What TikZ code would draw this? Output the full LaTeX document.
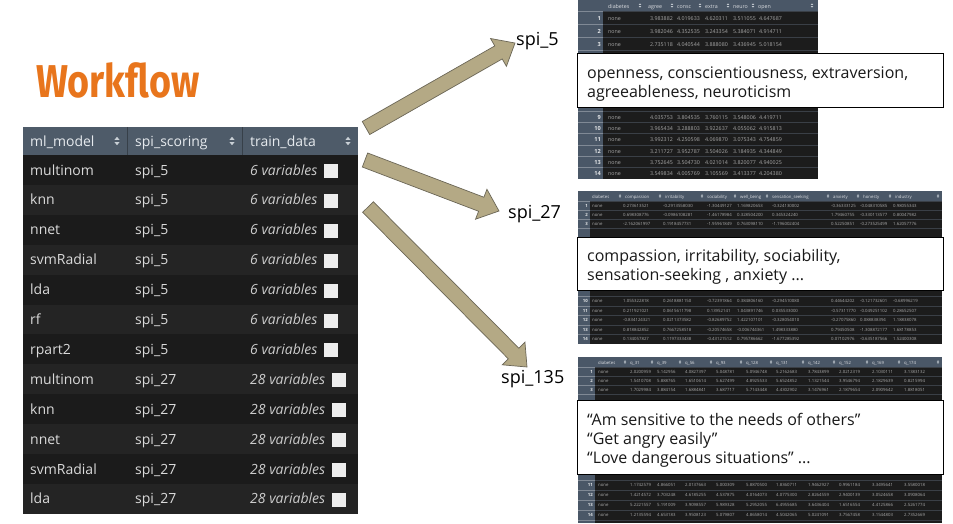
\documentclass[tikz,border=0pt]{standalone}
\usepackage{fontspec}
\usepackage{graphicx}
\setmainfont{Open Sans}
\newfontfamily\titlefont{Fira Sans}
\usetikzlibrary{calc}
\definecolor{hdr}{HTML}{4E5B69}
\definecolor{rowa}{HTML}{1B1B1B}
\definecolor{rowb}{HTML}{242424}
\definecolor{tabtxt}{HTML}{DADADA}
\definecolor{hdrtxt}{HTML}{E6EAEE}
\definecolor{orng}{HTML}{E8751C}
\definecolor{khaki}{HTML}{B4A985}
\definecolor{khakiedge}{HTML}{6B6656}
\definecolor{shdr}{HTML}{4A5767}
\definecolor{sbody}{HTML}{1C1C1C}
\definecolor{stxt}{HTML}{A8A8A8}
\definecolor{sline}{HTML}{3A3F46}
\definecolor{icon}{HTML}{C9D0D6}
\newcommand{\sorticon}[4]{%
  \fill[#4] ({#1-#3},{#2-0.4*#3}) -- ({#1+#3},{#2-0.4*#3}) -- (#1,{#2-1.6*#3}) -- cycle;
  \fill[#4] ({#1-#3},{#2+0.4*#3}) -- ({#1+#3},{#2+0.4*#3}) -- (#1,{#2+1.6*#3}) -- cycle;}
\newcommand{\blockarrow}[2]{%
  \coordinate (#1-p) at ($(#2)!19pt!(#1)$);
  \filldraw[fill=khaki, draw=khakiedge, line width=0.7pt, line join=miter]
    ($(#1)!7.5pt!90:(#2)$) -- ($(#1-p)!7.5pt!90:(#2)$) -- ($(#1-p)!16pt!90:(#2)$) -- (#2)
    -- ($(#1-p)!16pt!-90:(#2)$) -- ($(#1-p)!7.5pt!-90:(#2)$) -- ($(#1)!7.5pt!-90:(#2)$) -- cycle;}
\tikzset{
  tabcell/.style={anchor=base west, inner sep=0pt, text=tabtxt, font=\fontsize{14}{16}\selectfont},
  tabhead/.style={anchor=base west, inner sep=0pt, text=hdrtxt, font=\fontsize{14}{16}\selectfont},
  chk/.style={anchor=west, fill=white!93!black, minimum width=14pt, minimum height=14pt, inner sep=0pt},
  lbl/.style={anchor=base west, inner sep=0pt, text=black, font=\fontsize{18}{20}\selectfont},
  boxtxt/.style={anchor=base west, inner sep=0pt, text=black!90, font=\fontsize{16}{19}\selectfont},
  wbox/.style={draw=black, line width=1.2pt, fill=white, anchor=north west, inner sep=0pt},
  stx/.style={anchor=base west, inner sep=0pt, text=stxt, font=\fontsize{5.3}{6}\selectfont},
  sidx/.style={anchor=base east, inner sep=0pt, text=white!85!shdr, font=\bfseries\fontsize{5.6}{6}\selectfont},
  shd/.style={anchor=base west, inner sep=0pt, text=white!80!shdr, font=\fontsize{5.3}{6}\selectfont},
  tx/.style={anchor=base west, inner sep=0pt, text=stxt, font=\fontsize{4.3}{5}\selectfont},
  tidx/.style={anchor=base east, inner sep=0pt, text=white!85!shdr, font=\bfseries\fontsize{4.3}{5}\selectfont},
  thd/.style={anchor=base west, inner sep=0pt, text=white!80!shdr, font=\fontsize{4.3}{5}\selectfont},
}
\begin{document}
\begin{tikzpicture}[x=1pt,y=-1pt]
\useasboundingbox (0,0) rectangle (953,523);
\fill[white] (0,0) rectangle (953,523);

% title
\node[anchor=base west, inner sep=0pt, text=orng, font=\titlefont\bfseries\fontsize{46}{50}\selectfont] (title) at (36,97) {\scalebox{0.82}[1]{Workflow}};

% ---------- main table ----------
\fill[hdr] (23,127) rectangle (358,155);
\draw[hdr!70!black, line width=0.8pt] (127.5,127) -- (127.5,155) (242.5,127) -- (242.5,155);
\node[tabhead] (h1) at (30,146) {ml\_model};
\node[tabhead] (h2) at (135,146) {spi\_scoring};
\node[tabhead] (h3) at (250,146) {train\_data};
\sorticon{117}{141}{2.6}{icon}
\sorticon{232}{141}{2.6}{icon}
\sorticon{348}{141}{2.6}{icon}
\foreach \i/\m/\s/\v in {1/multinom/5/6, 2/knn/5/6, 3/nnet/5/6, 4/svmRadial/5/6, 5/lda/5/6, 6/rf/5/6, 7/rpart2/5/6, 8/multinom/27/28, 9/knn/27/28, 10/nnet/27/28, 11/svmRadial/27/28, 12/lda/27/28}{
  \pgfmathsetmacro\yt{155+(\i-1)*29.9}
  \pgfmathsetmacro\yc{\yt+15}
  \ifodd\i\relax\def\rc{rowa}\else\def\rc{rowb}\fi
  \fill[\rc] (23,\yt) rectangle (358,{\yt+29.95});
  \node[tabcell] (m\i) at (30,{\yc+5}) {\m};
  \node[tabcell] (s\i) at (135,{\yc+5}) {spi\_\s};
  \node[tabcell, text=white!80!black, font=\itshape\fontsize{14}{16}\selectfont] (v\i) at (250,{\yc+5}) {\v\ variables};
  \node[chk] (c\i) at ($(v\i.base east)+(6,-4)$) {};
}

% ---------- screenshot 1 (spi_5) ----------
\fill[sbody] (578,0) rectangle (818,179);
\fill[shdr] (578,0) rectangle (818,11);
\fill[shdr] (578,0) rectangle (603,179);
\foreach \yy in {11,24.5,37.5,50.5,111.5,122.5,133.5,145,156.5,167.5}{
  \draw[sline, line width=0.5pt] (603,\yy) -- (818,\yy);
  \draw[white!30!shdr, line width=0.5pt] (578,\yy) -- (603,\yy);
}
\foreach \lab/\xx [count=\k] in {diabetes/608, agree/648, consc/677, extra/705, neuro/733, open/758}{
  \node[shd] (s1h\k) at (\xx,8) {\lab};
}
\foreach \xx in {640,672,700,728,753,812}{\sorticon{\xx}{5.5}{1.3}{icon}}
\foreach \r/\yc/\a/\b/\c/\d/\e in {
  1/18/3.983882/4.019633/4.620311/3.511055/4.647687,
  2/31/3.982046/4.352535/3.243354/5.384071/4.914711,
  3/44/2.735118/4.040544/3.888080/3.436945/5.018154,
  9/117/4.035753/3.804535/3.760115/3.548006/4.419711,
  10/128/3.965434/3.288803/3.922637/4.055062/4.915813,
  11/139/3.992312/4.250598/4.069870/3.075343/4.754859,
  12/151/3.211727/3.952787/3.504026/3.184935/4.344849,
  13/162/3.752645/3.504730/4.021014/3.820077/4.940025,
  14/173/3.549834/4.005769/3.105569/3.413377/4.204380}{
  \node[sidx] (s1i\r) at (601,{\yc+2}) {\r};
  \node[stx] (s1n\r) at (608,{\yc+2}) {none};
  \node[stx] (s1a\r) at (650,{\yc+2}) {\a};
  \node[stx] (s1b\r) at (677,{\yc+2}) {\b};
  \node[stx] (s1c\r) at (705,{\yc+2}) {\c};
  \node[stx] (s1d\r) at (733,{\yc+2}) {\d};
  \node[stx] (s1e\r) at (759,{\yc+2}) {\e};
}
\node[wbox, minimum width=366pt, minimum height=54pt] (box1) at (577,53) {};
\node[boxtxt] (t1a) at (587,78) {openness, conscientiousness, extraversion,};
\node[boxtxt] (t1b) at (587,97) {agreeableness, neuroticism};

% ---------- screenshot 2 (spi_27) ----------
\fill[sbody] (578,191) rectangle (942,344);
\fill[shdr] (578,191) rectangle (942,201);
\fill[shdr] (578,191) rectangle (590,344);
\foreach \yy in {201,210.5,219.5,228.5,296.25,305.75,315.25,324.75,334.25}{
  \draw[sline, line width=0.5pt] (590,\yy) -- (942,\yy);
  \draw[white!30!shdr, line width=0.5pt] (578,\yy) -- (590,\yy);
}
\foreach \lab/\xx [count=\k] in {diabetes/592, compassion/625, irritability/665, sociability/707, well\_being/740, sensation\_seeking/772, anxiety/833, honesty/863, industry/895}{
  \node[thd] (s2h\k) at (\xx,198) {\lab};
}
\foreach \xx in {620,660,702,735,767,828,858,890,938}{\sorticon{\xx}{196}{1.1}{icon}}
\foreach \r/\yc/\a/\b/\c/\d/\e/\f/\g/\h in {
  1/206/0.273613521/-0.2913558030/-1.30449127/1.169820653/-0.324130002/-0.36333125/-0.048310585/0.98055343,
  2/215/0.698308776/-0.0986108281/-1.46178984/0.328504200/0.345324240/1.79460755/-0.330113577/0.80047982,
  3/224/-2.162061997/0.1918457731/-1.95961849/0.763098110/-1.196002404/0.52250851/-0.273525499/1.62057776,
  10/301/1.055322818/0.2618881150/-0.72391864/0.384806160/-0.294510080/0.44644202/-0.121732601/-0.68996219,
  11/310.5/0.211921021/0.0615611798/0.13952141/1.043891746/0.035533000/-0.57311770/-0.049251102/0.28652507,
  12/320/-0.834124321/0.0211373582/-0.82689752/1.422107101/-0.328054010/-0.27075860/0.088838394/1.18838078,
  13/329.5/0.818842852/0.7667258518/-0.20574658/-0.006744361/1.498333880/0.79450508/-1.308872177/1.68178853,
  14/339/0.134057827/0.1197333438/-0.43121512/0.795786662/-1.677285392/0.07102976/-0.635187566/1.52400308}{
  \node[tidx] (s2i\r) at (588,{\yc+1.5}) {\r};
  \node[tx] (s2n\r) at (592,{\yc+1.5}) {none};
  \node[tx] (s2a\r) at (623,{\yc+1.5}) {\a};
  \node[tx] (s2b\r) at (663,{\yc+1.5}) {\b};
  \node[tx] (s2c\r) at (707,{\yc+1.5}) {\c};
  \node[tx] (s2d\r) at (737,{\yc+1.5}) {\d};
  \node[tx] (s2e\r) at (772,{\yc+1.5}) {\e};
  \node[tx] (s2f\r) at (831,{\yc+1.5}) {\f};
  \node[tx] (s2g\r) at (860,{\yc+1.5}) {\g};
  \node[tx] (s2h\r) at (893,{\yc+1.5}) {\h};
}
\node[wbox, minimum width=366pt, minimum height=53pt] (box2) at (577,237) {};
\node[boxtxt] (t2a) at (587,261) {compassion, irritability, sociability,};
\node[boxtxt] (t2b) at (587,280) {sensation-seeking , anxiety ...};

% ---------- screenshot 3 (spi_135) ----------
\fill[sbody] (578,357) rectangle (942,523);
\fill[shdr] (578,357) rectangle (942,367);
\fill[shdr] (578,357) rectangle (595,523);
\foreach \yy in {367,376.5,385.5,394.5,480,490,500,510,520}{
  \draw[sline, line width=0.5pt] (595,\yy) -- (942,\yy);
  \draw[white!30!shdr, line width=0.5pt] (578,\yy) -- (595,\yy);
}
\foreach \lab/\xx [count=\k] in {diabetes/598, q\_31/630, q\_39/657, q\_56/685, q\_93/716, q\_128/746, q\_131/776, q\_142/808, q\_152/839, q\_169/872, q\_174/904}{
  \node[thd] (s3h\k) at (\xx,364) {\lab};
}
\foreach \xx in {625,652,680,711,741,771,803,834,867,899,938}{\sorticon{\xx}{362}{1.1}{icon}}
\foreach \r/\yc/\a/\b/\c/\d/\e/\f/\g/\h/\p/\q in {
  1/372/2.0200959/5.142956/4.0827397/5.048781/5.0946748/5.2162683/3.7843899/2.0212319/2.1030111/3.1383132,
  2/381/1.5410708/5.888765/1.6510614/5.627499/4.8925533/5.6524852/1.1321544/3.9546794/2.1829639/0.8215994,
  3/390/1.7029984/3.884154/1.6884841/3.687717/5.7143448/4.4302902/3.1476961/2.1879654/2.0909642/1.8818051,
  11/485/1.1742579/4.866051/2.0137663/5.000309/5.8870500/1.8360711/1.9462927/0.9961184/3.3495641/3.5580018,
  12/495/1.4214572/3.703248/4.6185255/4.537875/4.0164073/4.0775300/2.8264559/2.9400139/3.0524658/3.0908064,
  13/505/5.2221557/5.191009/3.9098557/5.989328/5.2952055/6.4955685/3.6436404/1.6516554/4.4125866/2.5261774,
  14/515/1.2135594/4.653183/3.9508123/5.079807/4.8658014/4.5042065/5.0241091/3.7567458/3.1544803/2.7352669}{
  \node[tidx] (s3i\r) at (593,{\yc+1.5}) {\r};
  \node[tx] (s3n\r) at (598,{\yc+1.5}) {none};
  \node[tx] (s3a\r) at (630,{\yc+1.5}) {\a};
  \node[tx] (s3b\r) at (657,{\yc+1.5}) {\b};
  \node[tx] (s3c\r) at (685,{\yc+1.5}) {\c};
  \node[tx] (s3d\r) at (716,{\yc+1.5}) {\d};
  \node[tx] (s3e\r) at (746,{\yc+1.5}) {\e};
  \node[tx] (s3f\r) at (776,{\yc+1.5}) {\f};
  \node[tx] (s3g\r) at (808,{\yc+1.5}) {\g};
  \node[tx] (s3h\r) at (839,{\yc+1.5}) {\h};
  \node[tx] (s3p\r) at (872,{\yc+1.5}) {\p};
  \node[tx] (s3q\r) at (904,{\yc+1.5}) {\q};
}
\node[wbox, minimum width=366pt, minimum height=74pt] (box3) at (577,400) {};
\node[boxtxt] (t3a) at (587,425) {“Am sensitive to the needs of others”};
\node[boxtxt] (t3b) at (587,444) {“Get angry easily”};
\node[boxtxt] (t3c) at (587,463) {“Love dangerous situations” ...};

% ---------- labels and arrows ----------
\node[lbl] (spi5) at (516,45) {spi\_5};
\node[lbl] (spi27) at (508,218) {spi\_27};
\node[lbl] (spi135) at (501,383) {spi\_135};
\coordinate (a1s) at (366,128);
\coordinate (a1e) at (515,43);
\coordinate (a2s) at (365,160);
\coordinate (a2e) at (499,211);
\coordinate (a3s) at (368,207);
\coordinate (a3e) at (527,367);
\blockarrow{a1s}{a1e}
\blockarrow{a2s}{a2e}
\blockarrow{a3s}{a3e}
\end{tikzpicture}
\end{document}
